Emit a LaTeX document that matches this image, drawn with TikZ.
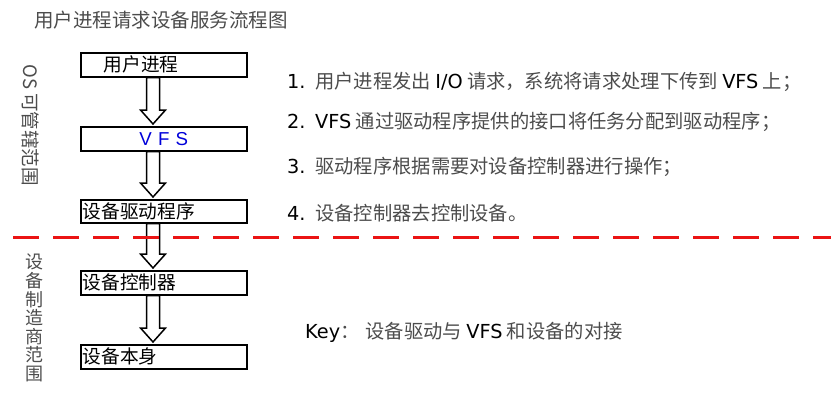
\documentclass[tikz,border=0pt]{standalone}
\usepackage{fontspec}
\setmainfont{Noto Sans CJK SC}
\newfontfamily\boxlatin{Liberation Sans}
\newfontfamily\stepfont{DejaVu Sans}
\usetikzlibrary{calc}
\definecolor{txtgray}{gray}{0.3}
\definecolor{cutred}{RGB}{235,20,20}
\newcommand{\VB}[1]{\textcolor{blue!85!black}{#1}}
\newcommand{\lat}[1]{{\stepfont\textcolor{black}{#1}}}
\newcommand{\num}[1]{\makebox[28pt][l]{\lat{#1}}}
% hollow block arrow under box #1 down to box #2
\newcommand\flowarrow[2]{%
  \draw[blockarrow] let \p1=(#1.south west), \p2=(#2.north) in
    (\x1+66.5pt,\y1) -- (\x1+79.5pt,\y1) -- (\x1+79.5pt,\y2+16pt)
    -- (\x1+85.5pt,\y2+16pt) -- (\x1+73pt,\y2+2pt) -- (\x1+60.5pt,\y2+16pt)
    -- (\x1+66.5pt,\y2+16pt) -- cycle;}

\begin{document}
\begin{tikzpicture}[x=1pt, y=-1pt,
  box/.style={draw, line width=1.5pt, anchor=north west, minimum width=166pt,
    minimum height=24pt, inner sep=1pt, text width=162pt, align=left,
    font=\fontsize{18.7}{20}\selectfont},
  blockarrow/.style={draw, line width=1.5pt, fill=white},
  item/.style={anchor=west, inner sep=0pt, text=txtgray,
    font=\fontsize{19.3}{20}\selectfont}]

  \useasboundingbox (0,0) rectangle (831,402);

  \node[anchor=west, inner sep=0pt, text=txtgray, font=\fontsize{19.5}{20}\selectfont]
    (title) at (34,20) {用户进程请求设备服务流程图};

  %% the five layers
  \node[box] (proc) at (80,52) {\hspace{21pt}用户进程};
  \node[box, align=center] (vfs) at (80,126) {\boxlatin\VB{V F S}};
  \node[box, minimum height=23pt] (driver) at (80,199) {设备驱动程序};
  \node[box] (ctrl) at (80,270) {设备控制器};
  \node[box] (dev) at (80,344) {设备本身};

  \flowarrow{proc}{vfs}
  \flowarrow{vfs}{driver}
  \flowarrow{driver}{ctrl}
  \flowarrow{ctrl}{dev}

  %% side labels
  \node[rotate=-90, inner sep=0pt, text=txtgray, font=\fontsize{18.5}{20}\selectfont]
    (osside) at (31,125) {OS 可管辖范围};
  \node[align=center, inner sep=0pt, text=txtgray, font=\fontsize{18}{18.6}\selectfont]
    (vendorside) at (35,318) {设\\备\\制\\造\\商\\范\\围};

  %% steps
  \node[item] (step1) at (287,82) {\num{1.}用户进程发出 \lat{I/O} 请求，系统将请求处理下传到 \lat{VFS} 上；};
  \node[item] (step2) at (287,122) {\num{2.}\lat{VFS} 通过驱动程序提供的接口将任务分配到驱动程序；};
  \node[item] (step3) at (287,167) {\num{3.}驱动程序根据需要对设备控制器进行操作；};
  \node[item] (step4) at (287,213) {\num{4.}设备控制器去控制设备。};

  \node[item] (key) at (305,332) {\lat{Key}：\hspace{6pt}设备驱动与 \lat{VFS} 和设备的对接};

  %% OS / vendor border
  \coordinate (cutL) at (13,237);
  \coordinate (cutR) at (831,237);
  \draw[cutred, line width=3pt, dash pattern=on 26pt off 14pt] (cutL) -- (cutR);
\end{tikzpicture}
\end{document}
